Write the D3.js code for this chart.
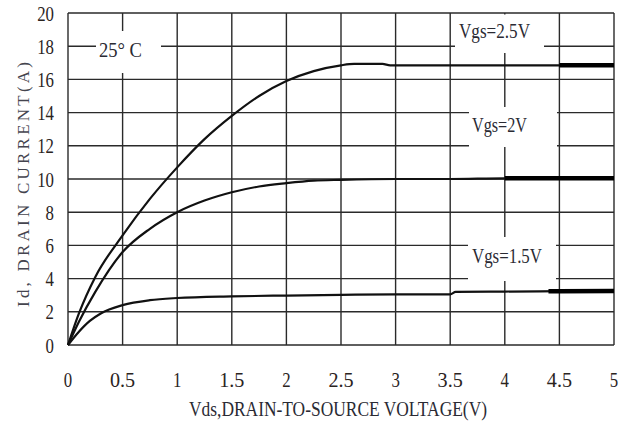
<!DOCTYPE html>
<html>
<head>
<meta charset="utf-8">
<script src="https://cdn.jsdelivr.net/npm/d3@7"></script>
<style>
  html, body { margin: 0; padding: 0; background: #fff; }
  svg { display: block; }
  text { font-family: "Liberation Serif", "DejaVu Serif", serif; }
</style>
</head>
<body>
<svg id="chart" width="628" height="423"></svg>
<script>
// ---- data ----
const xTicks = [0, 0.5, 1, 1.5, 2, 2.5, 3, 3.5, 4, 4.5, 5];
const xTickLabels = ["0", "0.5", "1", "1.5", "2", "2.5", "3", "3.5", "4", "4.5", "5"];
const yTicks = [0, 2, 4, 6, 8, 10, 12, 14, 16, 18, 20];
const yTickLabels = ["0", "2", "4", "6", "8", "10", "12", "14", "16", "18", "20"];

const vds25 = [0, 0.1, 0.25, 0.5, 0.75, 1, 1.25, 1.5, 1.75, 2, 2.25, 2.5, 2.62, 2.88, 2.95, 3.5, 4, 4.5, 5];
const id25  = [0, 1.9, 4.1, 6.6, 8.8, 10.7, 12.4, 13.8, 15.0, 15.9, 16.5, 16.85, 16.93, 16.93, 16.85, 16.85, 16.85, 16.85, 16.85];

const vds20 = [0, 0.1, 0.25, 0.5, 0.75, 1, 1.25, 1.5, 1.75, 2, 2.25, 2.5, 3, 3.5, 4, 4.5, 5];
const id20  = [0, 1.4, 3.2, 5.6, 7.0, 8.0, 8.7, 9.2, 9.55, 9.75, 9.9, 9.95, 10.0, 10.0, 10.04, 10.04, 10.04];

const vds15 = [0, 0.1, 0.2, 0.3, 0.5, 0.75, 1, 1.5, 2, 2.5, 3, 3.5, 3.55, 4, 4.5, 5];
const id15  = [0, 0.8, 1.45, 1.9, 2.4, 2.7, 2.83, 2.93, 2.98, 3.02, 3.05, 3.05, 3.2, 3.22, 3.24, 3.26];

const seriesNames = ["Vgs=2.5V", "Vgs=2V", "Vgs=1.5V"];
const heavyFrom = [4.5, 4.0, 4.4];   // Vds where the trace is drawn heavier

const tempLabel = "25° C";
const xTitle = "Vds,DRAIN-TO-SOURCE VOLTAGE(V)";
const yTitle = "Id,  DRAIN  CURRENT(A)";

// ---- layout ----
const svg = d3.select("#chart");
const x = d3.scaleLinear().domain([0, 5]).range([68, 614]);
const y = d3.scaleLinear().domain([0, 20]).range([345, 13]);

const gridColor = "#2a2a2a";
const textColor = "#2b241e";

// grid
const g = svg.append("g");
g.selectAll("line.v").data(xTicks).join("line")
  .attr("x1", d => x(d)).attr("x2", d => x(d))
  .attr("y1", y(0)).attr("y2", y(20))
  .attr("stroke", gridColor).attr("stroke-width", 1.4);
g.selectAll("line.h").data(yTicks).join("line")
  .attr("x1", x(0)).attr("x2", x(5))
  .attr("y1", d => y(d)).attr("y2", d => y(d))
  .attr("stroke", gridColor).attr("stroke-width", 1.4);

// white label boxes (cover grid)
const boxes = [
  {x0: 96, x1: 161, y0: 31, y1: 73},
  {x0: 455, x1: 544, y0: 14.5, y1: 53},
  {x0: 469, x1: 557, y0: 107, y1: 147},
  {x0: 468, x1: 556, y0: 237, y1: 281}
];
svg.selectAll("rect.box").data(boxes).join("rect")
  .attr("x", d => d.x0).attr("y", d => d.y0)
  .attr("width", d => d.x1 - d.x0).attr("height", d => d.y1 - d.y0)
  .attr("fill", "#fff");

// curves
const series = [
  {xs: vds25, ys: id25}, {xs: vds20, ys: id20}, {xs: vds15, ys: id15}
].map((s, i) => ({pts: s.xs.map((v, j) => [v, s.ys[j]]), heavy: heavyFrom[i]}));

const line = d3.line().x(d => x(d[0])).y(d => y(d[1])).curve(d3.curveMonotoneX);
series.forEach(s => {
  svg.append("path").attr("d", line(s.pts))
    .attr("fill", "none").attr("stroke", "#111").attr("stroke-width", 2.2)
    .attr("stroke-linejoin", "round");
  const tail = s.pts.filter(p => p[0] >= s.heavy);
  const yAt = s.pts.find(p => p[0] >= s.heavy)[1];
  const tailPts = [[s.heavy, yAt]].concat(tail.filter(p => p[0] > s.heavy));
  svg.append("path").attr("d", line(tailPts))
    .attr("fill", "none").attr("stroke", "#000").attr("stroke-width", 4.5);
});

// tick labels
function tlen(s) { return s.length * 8.4; }
svg.selectAll("text.xt").data(xTicks).join("text")
  .attr("x", d => x(d)).attr("y", 387)
  .attr("text-anchor", "middle")
  .attr("font-size", 22).attr("fill", textColor)
  .attr("textLength", (d, i) => tlen(xTickLabels[i]))
  .attr("lengthAdjust", "spacingAndGlyphs")
  .text((d, i) => xTickLabels[i]);
svg.selectAll("text.yt").data(yTicks).join("text")
  .attr("x", 54).attr("y", d => y(d) + 7.5)
  .attr("text-anchor", "end")
  .attr("font-size", 22).attr("fill", textColor)
  .attr("textLength", (d, i) => tlen(yTickLabels[i]))
  .attr("lengthAdjust", "spacingAndGlyphs")
  .text((d, i) => yTickLabels[i]);

// annotations
const notes = [
  {t: tempLabel, x: 99, y: 57, w: 43},
  {t: seriesNames[0], x: 459, y: 38, w: 71},
  {t: seriesNames[1], x: 472, y: 132, w: 55},
  {t: seriesNames[2], x: 472, y: 263, w: 70}
];
svg.selectAll("text.note").data(notes).join("text")
  .attr("x", d => d.x).attr("y", d => d.y)
  .attr("font-size", 21).attr("fill", "#2a2a33")
  .attr("textLength", d => d.w).attr("lengthAdjust", "spacingAndGlyphs")
  .text(d => d.t);

// axis titles
svg.append("text")
  .attr("x", 189).attr("y", 416)
  .attr("font-size", 21).attr("fill", "#2a2a33")
  .attr("textLength", 298).attr("lengthAdjust", "spacingAndGlyphs")
  .text(xTitle);

svg.append("text")
  .attr("transform", "translate(29,307) rotate(-90)")
  .attr("font-size", 17).attr("fill", "#44444e")
  .attr("textLength", 245).attr("lengthAdjust", "spacing")
  .text(yTitle);
</script>
</body>
</html>
